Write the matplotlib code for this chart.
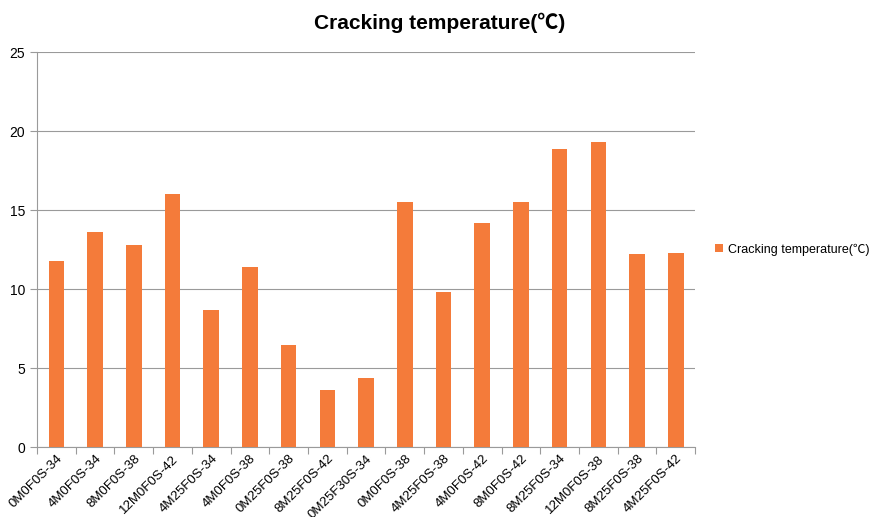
import matplotlib
matplotlib.use("Agg")
import matplotlib.pyplot as plt
import numpy as np

plt.rcParams['font.family'] = ['Liberation Sans', 'Noto Sans CJK SC', 'DejaVu Sans']

# data
labels = ["0M0F0S-34", "4M0F0S-34", "8M0F0S-38", "12M0F0S-42", "4M25F0S-34",
          "4M0F0S-38", "0M25F0S-38", "8M25F0S-42", "0M25F30S-34", "0M0F0S-38",
          "4M25F0S-38", "4M0F0S-42", "8M0F0S-42", "8M25F0S-34", "12M0F0S-38",
          "8M25F0S-38", "4M25F0S-42"]
temps = [11.8, 13.6, 12.8, 16.0, 8.7, 11.4, 6.5, 3.6, 4.4, 15.5,
         9.8, 14.2, 15.5, 18.9, 19.3, 12.2, 12.3]
series_name = "Cracking temperature(℃)"

fig = plt.figure(figsize=(8.8, 5.17), dpi=100)
ax = fig.add_axes([0.042, 0.135, 0.748, 0.764])

x = np.arange(len(labels))
ax.bar(x, temps, width=0.4, color="#F47B3A", label=series_name, zorder=3)

ax.set_xlim(-0.5, len(labels) - 0.5)
ax.set_ylim(0, 25)
ax.set_yticks(range(0, 26, 5))
ax.yaxis.grid(True, color="#9a9a9a", linewidth=0.8, zorder=0)

# ticks between categories, labels at centres
ax.set_xticks(np.arange(-0.5, len(labels), 1))
ax.set_xticklabels([])
ax.set_xticks(x, minor=True)
ax.set_xticklabels(labels, minor=True, rotation=45, ha="right",
                   rotation_mode="anchor", fontsize=9.5)
ax.tick_params(axis="x", which="minor", length=0, pad=4)
ax.tick_params(axis="x", which="major", length=5, color="#9a9a9a")
ax.tick_params(axis="y", length=5, color="#9a9a9a", labelsize=10)

for s in ["top", "right"]:
    ax.spines[s].set_visible(False)
for s in ["left", "bottom"]:
    ax.spines[s].set_color("#9a9a9a")

fig.text(0.5, 0.955, series_name, ha="center", va="center",
         fontsize=15, fontweight="bold")

ax.legend(loc="center left", bbox_to_anchor=(1.0, 0.5), frameon=False,
          fontsize=9, handlelength=0.6, handleheight=0.6, handletextpad=0.4,
          borderaxespad=1.2)

fig.savefig("out.png", dpi=100)
